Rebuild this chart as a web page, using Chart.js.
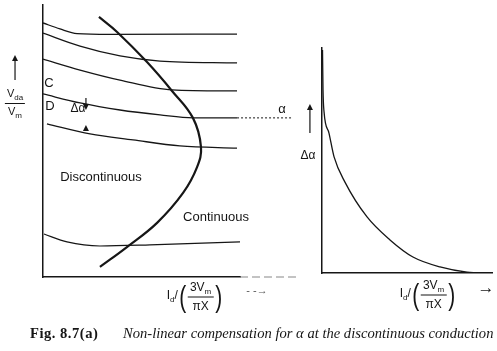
<!DOCTYPE html>
<html>
<head>
<meta charset="utf-8">
<script src="https://cdn.jsdelivr.net/npm/chart.js@4.4.0/dist/chart.umd.min.js"></script>
<style>
  body { margin: 0; background: #fff; width: 497px; height: 351px; overflow: hidden; position: relative;
         font-family: "Liberation Sans", Arial, sans-serif; color: #151515; }
  canvas { position: absolute; left: 0; top: 0; }
  .lbl { position: absolute; transform: translate(-50%, -50%); font-size: 13px; line-height: 1; white-space: nowrap; }
  .frac { display: inline-flex; flex-direction: column; align-items: center; vertical-align: middle; }
  .frac .num { border-bottom: 1px solid #151515; padding: 0 2px 1px; }
  .frac .den { padding-top: 2px; }
  .xl { display: flex; align-items: center; font-size: 12px; }
  .xl .par { font-size: 30px; transform: scaleX(0.7); line-height: 1; }
  sub { font-size: 8px; vertical-align: -3px; }
  .caption { position: absolute; left: 30px; top: 325px; font-family: "Liberation Serif", "DejaVu Serif", serif;
             font-size: 14.6px; white-space: nowrap; }
  .caption b { display: inline-block; width: 93px; letter-spacing: 0.5px; }
</style>
</head>
<body>
<canvas id="left" width="497" height="351"></canvas>
<canvas id="right" width="497" height="351"></canvas>

<div class="lbl" style="left:49px;top:82px">C</div>
<div class="lbl" style="left:50px;top:105px">D</div>
<div class="lbl" style="left:78px;top:108px;font-size:12px">Δα</div>
<div class="lbl" style="left:101px;top:176px">Discontinuous</div>
<div class="lbl" style="left:216px;top:216px">Continuous</div>
<div class="lbl" style="left:15px;top:104px;font-size:11px">
  <span class="frac"><span class="num">V<sub>da</sub></span><span class="den">V<sub>m</sub></span></span>
</div>
<div class="lbl xl" style="left:195px;top:296px">
  <span>I<sub>d</sub>/</span><span class="par">(</span>
  <span class="frac"><span class="num">3V<sub>m</sub></span><span class="den">πX</span></span>
  <span class="par">)</span>
</div>
<div class="lbl" style="left:257px;top:290px;font-size:11px;color:#555">- -→</div>

<div class="lbl" style="left:282px;top:108px;font-size:13px">α</div>
<div class="lbl" style="left:308px;top:155px;font-size:12px">Δα</div>
<div class="lbl xl" style="left:428px;top:294px">
  <span>I<sub>d</sub>/</span><span class="par">(</span>
  <span class="frac"><span class="num">3V<sub>m</sub></span><span class="den">πX</span></span>
  <span class="par">)</span>
</div>
<div class="lbl" style="left:486px;top:287px;font-size:17px">→</div>

<div class="caption"><b>Fig. 8.7(a)</b><i>Non-linear compensation for α at the discontinuous conduction</i></div>

<script>
// left panel: Vda/Vm against Id, one curve per firing angle (values in axis units 0..10)
const curveA = [[0, 9.34], [0.86, 9.12], [1.73, 8.95], [3.4, 8.92], [9.85, 8.93]];
const curveB = [[0, 8.97], [1.88, 8.49], [3.91, 8.13], [5.94, 7.94], [9.85, 7.87]];
const curveC = [[0, 8.01], [1.88, 7.61], [3.91, 7.24], [6.55, 6.88], [9.85, 6.84]];
const curveD = [[0, 6.73], [1.88, 6.40], [3.91, 6.14], [5.94, 5.96], [7.61, 5.85], [9.85, 5.85]];
const curveE = [[0.2, 5.63], [2.39, 5.26], [4.57, 5.04], [6.95, 4.82], [9.85, 4.74]];
const curveF = [[0.05, 1.58], [1.22, 1.29], [2.89, 1.14], [5.43, 1.18], [10, 1.29]];
// boundary between discontinuous and continuous conduction
const boundary = [[2.84, 9.56], [3.76, 9.01], [5.28, 7.90], [6.55, 6.84], [7.61, 5.85], [8.02, 4.78],
                  [7.82, 4.04], [7.11, 3.09], [5.79, 1.99], [4.26, 1.10], [2.89, 0.37]];
const alphaLevel = [[9.85, 5.85], [12.69, 5.85]];
const axisTail = [[10, 0], [12.9, 0]];
const leftArrows = [{x: 2.18, from: 6.58, to: 6.14}, {x: 2.18, from: 5.37, to: 5.59}, {x: -1.42, from: 7.24, to: 8.16}];

// right panel: delta alpha against Id
const deltaAlpha = [[0.03, 9.91], [0.06, 8.13], [0.12, 7.16], [0.41, 6.22], [0.71, 5.16], [1.35, 4.04],
                    [2.65, 2.49], [4.0, 1.47], [5.35, 0.71], [6.94, 0.27], [8.53, 0.04], [9.88, 0]];
const rightArrows = [{x: -0.71, from: 6.22, to: 7.51}];

const INK = '#161616';

const toPts = arr => arr.map(p => ({x: p[0], y: p[1]}));

const arrowPlugin = {
  id: 'arrows',
  afterDatasetsDraw(chart, args, opts) {
    const ctx = chart.ctx, sx = chart.scales.x, sy = chart.scales.y;
    ctx.save();
    ctx.strokeStyle = INK; ctx.fillStyle = INK; ctx.lineWidth = 1.2;
    opts.list.forEach(a => {
      const px = sx.getPixelForValue(a.x);
      const y1 = sy.getPixelForValue(a.from), y2 = sy.getPixelForValue(a.to);
      const dir = y2 > y1 ? 1 : -1;
      ctx.beginPath(); ctx.moveTo(px, y1); ctx.lineTo(px, y2 - dir * 4); ctx.stroke();
      ctx.beginPath();
      ctx.moveTo(px, y2); ctx.lineTo(px - 3, y2 - dir * 6); ctx.lineTo(px + 3, y2 - dir * 6);
      ctx.closePath(); ctx.fill();
    });
    ctx.restore();
  }
};

function line(pts, width, extra) {
  return Object.assign({
    data: toPts(pts), showLine: true, pointRadius: 0, borderColor: INK, borderWidth: width,
    cubicInterpolationMode: 'monotone', fill: false
  }, extra || {});
}

function axes(xmax) {
  const ax = {
    type: 'linear', min: 0, ticks: {display: false},
    grid: {display: false, drawTicks: false},
    border: {display: true, color: INK, width: 1.5}
  };
  return {x: Object.assign({}, ax, {max: xmax}), y: Object.assign({}, ax, {max: 10})};
}

const base = {
  responsive: false, animation: false, events: [],
  plugins: {legend: {display: false}, tooltip: {enabled: false}}
};

new Chart(document.getElementById('left'), {
  type: 'scatter',
  data: {
    datasets: [
      line(curveA, 1.3), line(curveB, 1.3), line(curveC, 1.3), line(curveD, 1.3),
      line(curveE, 1.3), line(curveF, 1.2),
      line(boundary, 2.2, {cubicInterpolationMode: 'default', tension: 0.4}),
      line(alphaLevel, 1, {borderDash: [2, 2], clip: false}),
      line(axisTail, 1.2, {borderDash: [8, 4], borderColor: '#888', clip: false})
    ]
  },
  options: Object.assign({}, base, {
    layout: {padding: {left: 43, top: 5, right: 257, bottom: 74}},
    scales: axes(10),
    plugins: Object.assign({}, base.plugins, {arrows: {list: leftArrows}})
  }),
  plugins: [arrowPlugin]
});

new Chart(document.getElementById('right'), {
  type: 'scatter',
  data: {datasets: [line(deltaAlpha, 1.3)]},
  options: Object.assign({}, base, {
    layout: {padding: {left: 322, top: 48, right: 5, bottom: 78}},
    scales: axes(10),
    plugins: Object.assign({}, base.plugins, {arrows: {list: rightArrows}})
  }),
  plugins: [arrowPlugin]
});
</script>
</body>
</html>
